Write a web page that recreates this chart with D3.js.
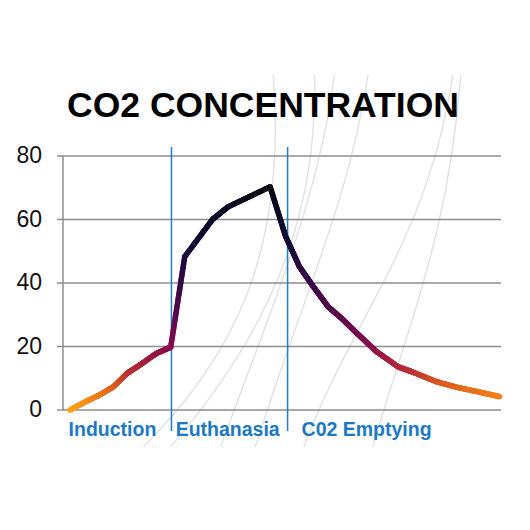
<!DOCTYPE html>
<html>
<head>
<meta charset="utf-8">
<script src="https://cdn.jsdelivr.net/npm/d3@7"></script>
<style>
  html, body { margin: 0; padding: 0; background: #fff; }
  svg { display: block; font-family: "Liberation Sans", Arial, sans-serif; }
</style>
</head>
<body>
<svg id="chart" width="530" height="530"></svg>
<script>
// ---- data ----
const title = "CO2 CONCENTRATION";
const time = [0.5, 1.6, 2.6, 3.6, 4.6, 5.5, 6.7, 7.7, 8.7, 10.7, 11.8, 14.8, 15.9, 16.9, 17.9, 18.95, 19.9, 21.0, 22.4, 23.95, 24.9, 26.7, 28.1, 29.8, 31.2];
const co2 = [0, 2.6, 4.7, 7.3, 11.6, 14.2, 17.9, 19.8, 48.3, 60.1, 64.0, 70.3, 54.8, 45.1, 38.8, 32.5, 28.9, 24.2, 18.4, 13.6, 12.1, 8.9, 7.2, 5.6, 4.2];
const yTicks = [0, 20, 40, 60, 80];
const phaseNames = ["Induction", "Euthanasia", "C02 Emptying"];
const phaseLabelAt = [0.4, 8.05, 17.05];
const dividers = [7.75, 16.05];
const colorStops = [0, 4, 8, 12, 20, 30, 45, 55, 70];
const colorRange = ["#fba51a", "#f2841a", "#dc5c1f", "#bb2f36", "#8a0a4a", "#5a0a4c", "#270a42", "#0e0b30", "#0a0a14"];

// ---- layout ----
const svg = d3.select("#chart");
const x = d3.scaleLinear().domain([0, 31.3]).range([63, 501]);
const y = d3.scaleLinear().domain([0, 80]).range([410, 156]);
const color = d3.scaleLinear().domain(colorStops).range(colorRange).interpolate(d3.interpolateRgb);

// decorative background curves
svg.append("clipPath").attr("id", "decoClip").append("rect").attr("x", 0).attr("y", 75).attr("width", 530).attr("height", 372);
const deco = svg.append("g").attr("fill", "none").attr("stroke", "#dfe1e3").attr("stroke-width", 1.4)
  .attr("clip-path", "url(#decoClip)");
const decoPaths = [
  "M130,460 C235,360 290,250 272,60",
  "M150,470 C265,345 322,220 314,60",
  "M212,470 C262,330 322,200 336,60",
  "M248,470 C300,300 352,200 370,60",
  "M296,470 C345,320 430,250 455,60",
  "M366,470 C405,330 450,240 462,60"
];
deco.selectAll("path").data(decoPaths).join("path").attr("d", d => d);

// gridlines
svg.append("g").selectAll("line").data(yTicks).join("line")
  .attr("x1", 57).attr("x2", 501)
  .attr("y1", d => y(d)).attr("y2", d => y(d))
  .attr("stroke", "#8c8c8c").attr("stroke-width", 1.5);

// left axis line
svg.append("line").attr("x1", x(0)).attr("x2", x(0)).attr("y1", y(80)).attr("y2", y(0))
  .attr("stroke", "#8c8c8c").attr("stroke-width", 1.5);

// y tick labels
svg.append("g").selectAll("text").data(yTicks).join("text")
  .attr("x", 42).attr("y", d => y(d) - 1)
  .attr("text-anchor", "end").attr("dominant-baseline", "central")
  .attr("font-size", 23).attr("fill", "#111")
  .text(d => d);

// dividers
svg.append("g").selectAll("line").data(dividers).join("line")
  .attr("x1", d => x(d)).attr("x2", d => x(d))
  .attr("y1", 147).attr("y2", 431)
  .attr("stroke", "#1f7cc8").attr("stroke-width", 1.5);

// phase labels
svg.append("g").selectAll("text").data(phaseNames).join("text")
  .attr("x", (d, i) => x(phaseLabelAt[i])).attr("y", 436)
  .attr("font-size", 19.5).attr("font-weight", "bold").attr("fill", "#1a78c8")
  .text(d => d);

// colored line: break segments into small pieces
const pieces = [];
const N = 24;
for (let i = 0; i < time.length - 1; i++) {
  for (let k = 0; k < N; k++) {
    const a = k / N, b = (k + 1) / N;
    const t0 = time[i] + (time[i + 1] - time[i]) * a;
    const t1 = time[i] + (time[i + 1] - time[i]) * b;
    const v0 = co2[i] + (co2[i + 1] - co2[i]) * a;
    const v1 = co2[i] + (co2[i + 1] - co2[i]) * b;
    pieces.push({t0, t1, v0, v1});
  }
}
svg.append("g").selectAll("line").data(pieces).join("line")
  .attr("x1", d => x(d.t0)).attr("y1", d => y(d.v0))
  .attr("x2", d => x(d.t1)).attr("y2", d => y(d.v1))
  .attr("stroke", d => color((d.v0 + d.v1) / 2))
  .attr("stroke-width", 5.5).attr("stroke-linecap", "round");

// title
svg.append("text").attr("x", 263).attr("y", 117)
  .attr("text-anchor", "middle").attr("font-size", 35.5).attr("font-weight", "bold").attr("fill", "#000")
  .text(title);
</script>
</body>
</html>
